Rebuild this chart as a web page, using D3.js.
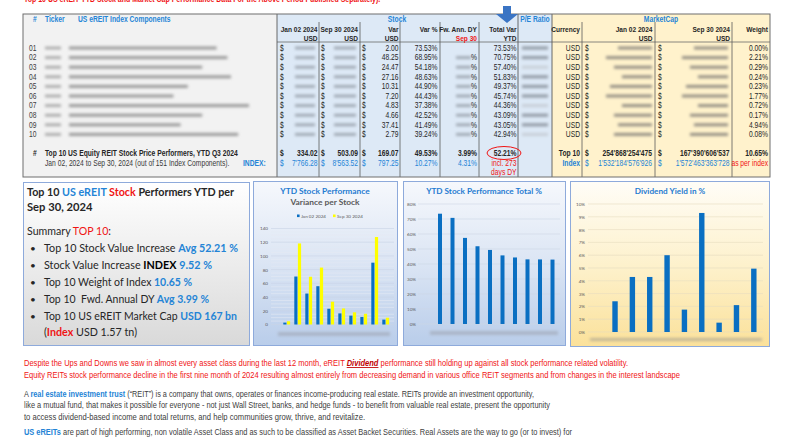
<!DOCTYPE html>
<html>
<head>
<meta charset="utf-8">
<script src="https://cdn.jsdelivr.net/npm/d3@7"></script>
<style>
  body { margin: 0; background: #fff; }
  svg { display: block; }
</style>
</head>
<body>
<svg id="chart" width="800" height="440"></svg>
<script>
// ---- data ----
const ranks = ["01", "02", "03", "04", "05", "06", "07", "08", "09", "10"];
const priceJan = [2.72, 69.98, 45.16, 55.85, 22.96, 16.2, 12.92, 10.96, 90.17, 7.11];
const priceSep = [4.72, 118.23, 69.63, 83.01, 33.27, 23.4, 17.75, 15.62, 127.58, 9.9];
const varUsd = [2.0, 48.25, 24.47, 27.16, 10.31, 7.2, 4.83, 4.66, 37.41, 2.79];
const varPct = [73.53, 68.95, 54.18, 48.63, 44.9, 44.43, 37.38, 42.52, 41.49, 39.24];
const totalVar = [73.53, 70.75, 57.4, 51.83, 49.37, 45.74, 44.36, 43.09, 43.05, 42.94];
const divYield = [0, 2.4, 4.3, 4.3, 6.0, 1.75, 9.3, 0.73, 2.1, 4.95];
const weightPct = [0.0, 2.21, 0.29, 0.24, 0.23, 1.77, 0.72, 0.17, 4.94, 0.08];
// redacted ticker names, approx length in characters
const nameChars = [41, 44, 37, 45, 33, 29, 50, 37, 31, 47];

const top10Row = ["334.02", "503.09", "169.07", "49.53%", "3.99%", "52.21%", "Top 10", "254'868'254'475", "167'390'606'537", "10.65%"];
const indexRow = ["7'766.28", "8'563.52", "797.25", "10.27%", "4.31%", "incl. 273", "Index", "1'532'184'576'926", "1'572'463'363'728", "as per index"];

const stockTicks = [0, 20, 40, 60, 80, 100, 120, 140];
const totalTicks = [0, 10, 20, 30, 40, 50, 60, 70, 80];
const dyTicks = [0, 1, 2, 3, 4, 5, 6, 7, 8, 9, 10];

// ---- style ----
// no narrow font installed: Liberation Sans squeezed to ~82% stands in for it
const TF = "'Liberation Sans', Arial, sans-serif";
const SQUEEZE = 0.82;
const BF = "Lato, 'Open Sans', sans-serif";
const BLUE = "#2484d6", RED = "#f01414", DARK = "#262626", BAR = "#0a6fc2";

const svg = d3.select("#chart");
const defs = svg.append("defs");
defs.append("filter").attr("id", "blur")
  .attr("x", "-30%").attr("y", "-200%").attr("width", "160%").attr("height", "500%")
  .append("feGaussianBlur").attr("stdDeviation", 1.4);

function grad(id, stops) {
  const g = defs.append("linearGradient").attr("id", id)
    .attr("x1", 0).attr("y1", 0).attr("x2", 0).attr("y2", 1);
  stops.forEach(([o, c]) => g.append("stop").attr("offset", o).attr("stop-color", c));
}
grad("gBlue", [[0, "#f6f8fc"], [0.5, "#dbe5f4"], [1, "#b9cdea"]]);
grad("gGray", [[0, "#ffffff"], [1, "#d9d9d9"]]);
grad("gYel", [[0, "#fffdf7"], [0.55, "#fdf0c8"], [1, "#fbe19a"]]);

function squeeze(t) {
  const w = t.node().getComputedTextLength();
  t.attr("textLength", w * SQUEEZE).attr("lengthAdjust", "spacingAndGlyphs");
  return t;
}
function txt(g, x, y, s, o = {}) {
  const t = g.append("text")
    .attr("x", x).attr("y", y).attr("dy", "0.35em")
    .attr("text-anchor", o.anchor || "start")
    .style("font-family", o.family || TF)
    .style("font-size", (o.size || 8.2) + "px")
    .style("font-weight", o.bold ? "bold" : "normal")
    .style("fill", o.color || DARK)
    .text(s);
  if (!o.family) squeeze(t);
  return t;
}
function rich(g, x, y, parts, o = {}) {
  const t = g.append("text").attr("x", x).attr("y", y).attr("dy", "0.35em")
    .style("font-family", o.family || BF)
    .style("font-size", (o.size || 11) + "px")
    .style("fill", o.color || DARK)
    .attr("xml:space", "preserve");
  parts.forEach(p => {
    const s = t.append("tspan").text(p[0]);
    if (p[1]) s.style("fill", p[1]);
    if (p[2]) s.style("font-weight", "bold");
    if (p[3]) s.style("text-decoration", "underline").style("font-style", "italic");
  });
  if (o.len) t.attr("textLength", o.len).attr("lengthAdjust", "spacingAndGlyphs");
  return t;
}
function smudge(g, x, y, w, h, c) {
  g.append("rect").attr("x", x).attr("y", y - h / 2).attr("width", w).attr("height", h)
    .attr("fill", c || "#999").attr("filter", "url(#blur)");
}

// ---- top cut-off note ----
txt(svg, 24, -1, "Top 10 US eREIT YTD Stock and Market Cap Performance Data For the Above Period Published Separately).", { color: RED, size: 8.5, bold: true });

// ---- table ----
const T = svg.append("g");
const tTop = 14, tBot = 177;
T.append("rect").attr("x", 23).attr("y", tTop).attr("width", 254).attr("height", tBot - tTop).attr("fill", "#f2f2f2");
T.append("rect").attr("x", 277).attr("y", tTop).attr("width", 275).attr("height", tBot - tTop).attr("fill", "#dde9f6");
T.append("rect").attr("x", 552).attr("y", tTop).attr("width", 218).attr("height", tBot - tTop).attr("fill", "#fff2cc");
T.append("line").attr("x1", 277).attr("x2", 770).attr("y1", 42).attr("y2", 42).attr("stroke", "#6b6b6b").attr("stroke-width", 0.8);
[319, 360, 400, 440, 479, 582, 655, 732].forEach(x =>
  T.append("line").attr("x1", x).attr("x2", x).attr("y1", 22).attr("y2", tBot).attr("stroke", "#5a5a5a").attr("stroke-width", 0.8));
[277, 518, 552].forEach(x =>
  T.append("line").attr("x1", x).attr("x2", x).attr("y1", tTop).attr("y2", tBot).attr("stroke", "#5a5a5a").attr("stroke-width", 0.9));
T.append("rect").attr("x", 23).attr("y", tTop).attr("width", 747).attr("height", tBot - tTop)
  .attr("fill", "none").attr("stroke", "#6e6e6e").attr("stroke-width", 1);

// headers
txt(T, 33, 19.5, "#", { bold: true, color: BLUE });
txt(T, 45, 19.5, "Ticker", { bold: true, color: BLUE });
txt(T, 78, 19.5, "US eREIT Index Components", { bold: true, color: BLUE });
txt(T, 397, 19.5, "Stock", { bold: true, color: BLUE, anchor: "middle" });
txt(T, 535, 19.5, "P/E Ratio", { bold: true, color: BLUE, anchor: "middle" });
txt(T, 661, 19.5, "MarketCap", { bold: true, color: BLUE, anchor: "middle" });
const heads = [
  [317.5, "Jan 02 2024", "USD"], [358, "Sep 30 2024", "USD"], [398.5, "Var", "USD"],
  [437.5, "Var %", null], [477, "Fw. Ann. DY", "Sep 30"], [516.5, "Total Var", "YTD"],
  [580, "Currency", null], [652.5, "Jan 02 2024", "USD"], [730, "Sep 30 2024", "USD"], [768, "Weight", null]
];
heads.forEach(([x, a, b]) => {
  txt(T, x, 29, a, { bold: true, anchor: "end", size: 8 });
  if (b) txt(T, x, 38.5, b, { bold: true, anchor: "end", size: 8, color: b === "Sep 30" ? RED : DARK });
});

// arrow over Total Var
T.append("path")
  .attr("d", "M503,6 L511,6 L511,14 L518,14 L507,23 L496,14 L503,14 Z")
  .attr("fill", "#3a74c4");

// rows
const rowY = d3.scaleBand().domain(ranks).range([43.2, 139.2]);
const cy = r => rowY(r) + rowY.bandwidth() / 2;
const f2 = d3.format(".2f");
ranks.forEach((r, i) => {
  const y = cy(r);
  txt(T, 29, y, r, { color: "#404040" });
  smudge(T, 45, y, 16, 2.6, "#a6a6a6");
  smudge(T, 69, y, nameChars[i] * 3.6, 3, "#9a9a9a");
  [280, 321, 362].forEach(x => txt(T, x, y, "$"));
  smudge(T, 295, y, 20, 2.6, "#9aa3ad");
  smudge(T, 334, y, 22, 2.6, "#9aa3ad");
  txt(T, 398.5, y, f2(varUsd[i]), { anchor: "end" });
  txt(T, 437.5, y, f2(varPct[i]) + "%", { anchor: "end" });
  if (divYield[i] > 0) {
    smudge(T, 456, y, 15, 2.6, "#9aa3ad");
    txt(T, 477, y, "%", { anchor: "end" });
  }
  txt(T, 516.5, y, f2(totalVar[i]) + "%", { anchor: "end" });
  if ([0, 1, 3, 4, 5, 7, 8].includes(i)) smudge(T, 522, y, 26, 3, "#8f98a3");
  else smudge(T, 522, y, 26, 3, "#c8cfd8");
  txt(T, 580, y, "USD", { anchor: "end" });
  txt(T, 585, y, "$");
  txt(T, 658, y, "$");
  const wj = 30 + (nameChars[i] % 5) * 4;
  smudge(T, 652 - wj, y, wj, 2.8, "#8f8a80");
  smudge(T, 728 - wj, y, wj, 2.8, "#8f8a80");
  txt(T, 768, y, f2(weightPct[i]) + "%", { anchor: "end" });
});

// summary rows
const valX = [317.5, 358, 398.5, 437.5, 477, 516.5, 580, 652, 729.5, 768];
txt(T, 33, 153, "#", { bold: true });
txt(T, 45, 153, "Top 10 US Equity REIT Stock Price Performers, YTD Q3 2024", { bold: true });
txt(T, 45, 163, "Jan 02, 2024 to Sep 30, 2024 (out of 151 Index Components).", { color: "#3a3a3a" });
txt(T, 243, 163, "INDEX:", { bold: true, color: BLUE });
[280, 321, 362, 585, 658].forEach(x => {
  txt(T, x, 153, "$", { bold: true });
  txt(T, x, 163, "$", { color: BLUE });
});
top10Row.forEach((v, k) => txt(T, valX[k], 153, v, { bold: true, anchor: "end" }));
indexRow.forEach((v, k) => {
  const red = k === 5 || k === 9;
  txt(T, valX[k], 163, v, { anchor: "end", color: red ? RED : BLUE, bold: k === 6 });
});
txt(T, 516.5, 172, "days DY", { anchor: "end", color: RED });
T.append("ellipse").attr("cx", 504).attr("cy", 153).attr("rx", 17).attr("ry", 6.5)
  .attr("fill", "none").attr("stroke", RED).attr("stroke-width", 1);

// ---- summary box ----
const S = svg.append("g");
S.append("rect").attr("x", 23.5).attr("y", 182.5).attr("width", 226).attr("height", 163)
  .attr("fill", "url(#gGray)").attr("stroke", "#8eaadb").attr("stroke-width", 1);
rich(S, 27, 192, [["Top 10 "], ["US eREIT", BLUE], [" "], ["Stock", RED], [" Performers YTD per"]], { size: 11.2, len: 207 })
  .style("font-weight", "bold");
rich(S, 27, 207, [["Sep 30, 2024"]], { size: 11.2 }).style("font-weight", "bold");
rich(S, 27, 231, [["Summary "], ["TOP 10", RED], [":"]], { size: 11, len: 84 });
const bullets = [
  [["Top 10 Stock Value Increase "], ["Avg 52.21 %", BLUE, true]],
  [["Stock Value Increase "], ["INDEX", "#000", true], [" "], ["9.52 %", BLUE, true]],
  [["Top 10 Weight of Index "], ["10.65 %", BLUE, true]],
  [["Top 10  Fwd. Annual DY "], ["Avg 3.99 %", BLUE, true]],
  [["Top 10 US eREIT Market Cap "], ["USD 167 bn", BLUE, true]]
];
const bulletLen = [194, 168, 148, 165, 193];
bullets.forEach((b, i) => {
  const y = 248 + i * 17;
  txt(S, 30, y, "•", { family: BF, size: 10 });
  rich(S, 44, y, b, { size: 11, len: bulletLen[i] });
});
rich(S, 44, 332, [["("], ["Index", RED, true], [" USD 1.57 tn)"]], { size: 11, len: 93 });

// ---- chart helpers ----
function frame(x, y, w, h, fill) {
  svg.append("rect").attr("x", x + 0.5).attr("y", y + 0.5).attr("width", w).attr("height", h)
    .attr("fill", fill).attr("stroke", "#8eaadb").attr("stroke-width", 1);
}
function yAxis(g, scale, ticks, fmt, x) {
  const a = g.append("g").attr("transform", `translate(${x},0)`)
    .call(d3.axisLeft(scale).tickValues(ticks).tickFormat(fmt).tickSize(0).tickPadding(0));
  a.select(".domain").remove();
  a.selectAll("text").style("font-family", BF).style("font-size", "4.6px").style("fill", "#595959");
}

// ---- chart 1: variance per stock ----
frame(253, 181, 144, 164, "url(#gBlue)");
const C1 = svg.append("g");
txt(C1, 325, 191.5, "YTD Stock Performance", { family: BF, bold: true, size: 8.4, color: "#1f7bd1", anchor: "middle" });
txt(C1, 325, 202.5, "Variance per Stock", { family: BF, bold: true, size: 8.4, color: "#595959", anchor: "middle" });
const x1 = d3.scaleBand().domain(ranks).range([279.5, 389.5]);
const y1 = d3.scaleLinear().domain([0, 140]).range([324.5, 228.5]);
d3.range(0, 141, 5).forEach(v =>
  C1.append("line").attr("x1", 271).attr("x2", 394).attr("y1", y1(v)).attr("y2", y1(v))
    .attr("stroke", v % 20 === 0 ? "#c9d4e6" : "#e4eaf4").attr("stroke-width", 0.6));
yAxis(C1, y1, stockTicks, d => d, 268);
C1.selectAll(".b1").data(ranks).join("rect")
  .attr("x", d => x1(d) + 3.8).attr("width", 3.2)
  .attr("y", (d, i) => y1(priceJan[i])).attr("height", (d, i) => y1(0) - y1(priceJan[i]))
  .attr("fill", BAR);
C1.selectAll(".b2").data(ranks).join("rect")
  .attr("x", d => x1(d) + 7.4).attr("width", 3.2)
  .attr("y", (d, i) => y1(priceSep[i])).attr("height", (d, i) => y1(0) - y1(priceSep[i]))
  .attr("fill", "#ffff00");
C1.append("rect").attr("x", 297).attr("y", 214.5).attr("width", 2.6).attr("height", 2.6).attr("fill", BAR);
txt(C1, 301, 216, "Jan 02 2024", { family: BF, size: 4.6, color: "#595959" });
C1.append("rect").attr("x", 333).attr("y", 214.5).attr("width", 2.6).attr("height", 2.6).attr("fill", "#ffff00");
txt(C1, 337, 216, "Sep 30 2024", { family: BF, size: 4.6, color: "#595959" });
smudge(C1, 278, 334, 112, 3.5, "#a8b2c4");

// ---- chart 2: total % ----
frame(403, 181, 162, 164, "url(#gBlue)");
const C2 = svg.append("g");
txt(C2, 484, 191.5, "YTD Stock Performance Total %", { family: BF, bold: true, size: 8.2, color: "#1f7bd1", anchor: "middle" });
const x2 = d3.scaleBand().domain(ranks).range([433.75, 558.75]);
const y2 = d3.scaleLinear().domain([0, 80]).range([324, 204]);
totalTicks.forEach(v =>
  C2.append("line").attr("x1", 418).attr("x2", 560).attr("y1", y2(v)).attr("y2", y2(v))
    .attr("stroke", "#ccd6e6").attr("stroke-width", 0.6));
yAxis(C2, y2, totalTicks, d => d + "%", 416);
C2.selectAll("rect.bar").data(ranks).join("rect").attr("class", "bar")
  .attr("x", d => x2(d) + x2.bandwidth() / 2 - 2).attr("width", 4)
  .attr("y", (d, i) => y2(totalVar[i])).attr("height", (d, i) => y2(0) - y2(totalVar[i]))
  .attr("fill", BAR);
smudge(C2, 430, 333, 128, 3.5, "#a8b2c4");

// ---- chart 3: dividend yield ----
frame(570, 181, 199, 165, "url(#gYel)");
const C3 = svg.append("g");
txt(C3, 670, 191.5, "Dividend Yield in %", { family: BF, bold: true, size: 8.2, color: "#1f7bd1", anchor: "middle" });
const x3 = d3.scaleBand().domain(ranks).range([589, 762.5]);
const y3 = d3.scaleLinear().domain([0, 10]).range([332, 204]);
dyTicks.forEach(v =>
  C3.append("line").attr("x1", 588).attr("x2", 763).attr("y1", y3(v)).attr("y2", y3(v))
    .attr("stroke", "#e6dcc0").attr("stroke-width", 0.6));
yAxis(C3, y3, dyTicks, d => d + "%", 585);
C3.selectAll("rect.bar").data(ranks).join("rect").attr("class", "bar")
  .attr("x", d => x3(d) + x3.bandwidth() / 2 - 2.7).attr("width", 5.4)
  .attr("y", (d, i) => y3(divYield[i])).attr("height", (d, i) => y3(0) - y3(divYield[i]))
  .attr("fill", BAR);
smudge(C3, 590, 339.5, 172, 2.5, "#b7ad95");

// ---- text below ----
const P = svg.append("g");
rich(P, 24, 363, [["Despite the Ups and Downs we saw in almost every asset class during the last 12 month, eREIT "],
  ["Dividend", "#c00000", true, true], [" performance still holding up against all stock performance related volatility."]],
  { family: TF, size: 8.6, color: RED, len: 604 });
rich(P, 24, 374.5, [["Equity REITs stock performance decline in the first nine month of 2024 resulting almost entirely from decreasing demand in various office REIT segments and from changes in the interest landscape"]],
  { family: TF, size: 8.6, color: RED, len: 656 });
rich(P, 24, 393.5, [["A "], ["real estate investment trust", BLUE, true],
  [" (\u201CREIT\u201D) is a company that owns, operates or finances income-producing real estate. REITs provide an investment opportunity,"]],
  { family: TF, size: 8.6, color: "#404040", len: 510 });
rich(P, 24, 405, [["like a mutual fund, that makes it possible for everyone - not just Wall Street, banks, and hedge funds - to benefit from valuable real estate, present the opportunity"]],
  { family: TF, size: 8.6, color: "#404040", len: 526 });
rich(P, 24, 416.5, [["to access dividend-based income and total returns, and help communities grow, thrive, and revitalize."]],
  { family: TF, size: 8.6, color: "#404040", len: 341 });
rich(P, 24, 432, [["US eREITs", BLUE, true],
  [" are part of high performing, non volatile Asset Class and as such to be classified as Asset Backet Securities. Real Assets are the way to go (or to invest) for"]],
  { family: TF, size: 8.6, color: "#404040", len: 548 });
</script>
</body>
</html>
